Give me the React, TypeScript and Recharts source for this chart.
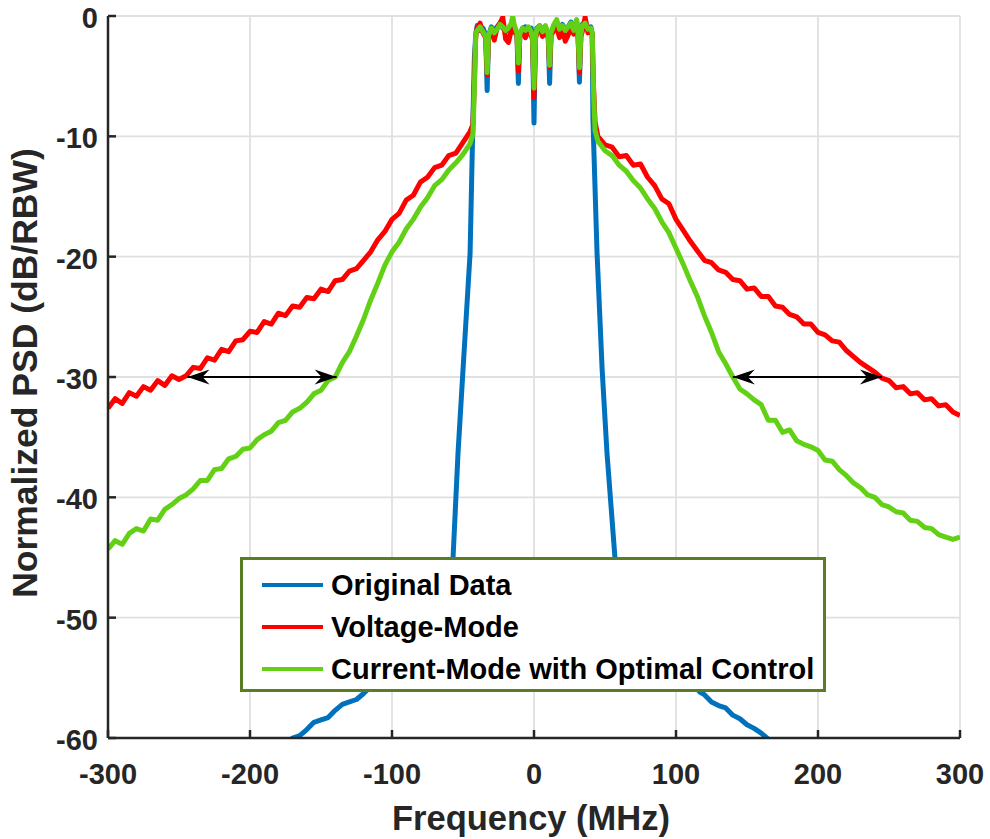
import React from 'react';
import { LineChart, Line, XAxis, YAxis, CartesianGrid, Legend, ReferenceLine } from 'recharts';

const FONT = 'Arial, "Liberation Sans", Helvetica, sans-serif';
const AXIS_COLOR = '#262626';

// ---------- tick labels ----------
const xTicks = [-300, -200, -100, 0, 100, 200, 300];
const yTicks = [-60, -50, -40, -30, -20, -10, 0];

// ---------- series meta ----------
const seriesNames = ['Original Data', 'Voltage-Mode', 'Current-Mode with Optimal Control'];
const seriesColors = ['#0072bd', '#ff0000', '#62d116'];

// ---------- shared frequency grids (MHz) ----------
const skirtLeftF = [-300, -295, -290, -285, -280, -275, -270, -265, -260, -255, -250, -245, -240, -235, -230, -225, -220, -215, -210, -205, -200, -195, -190, -185, -180, -175, -170, -165, -160, -155, -150, -145, -140, -135, -130, -125, -120, -115, -110, -105, -100, -95, -90, -85, -80, -75, -70, -65, -60, -55, -50, -45];
const skirtRightF = [45, 50, 55, 60, 65, 70, 75, 80, 85, 90, 95, 100, 105, 110, 115, 120, 125, 130, 135, 140, 145, 150, 155, 160, 165, 170, 175, 180, 185, 190, 195, 200, 205, 210, 215, 220, 225, 230, 235, 240, 245, 250, 255, 260, 265, 270, 275, 280, 285, 290, 295, 300];
const edgeLeftF = [-43, -42];
const edgeRightF = [42, 43];
const passF = [-41, -40, -38, -36, -34, -33, -32, -30, -28, -26, -24, -22, -20, -18, -16, -15, -14, -12, -11, -10, -8, -6, -4, -2, -1, 0, 1, 2, 4, 6, 8, 10, 11, 12, 14, 16, 18, 20, 22, 24, 26, 28, 30, 31, 32, 33, 34, 36, 38, 40, 41];

// ---------- Original Data (blue) ----------
const blueLeftF = [-300, -200, -180, -170, -165, -160, -155, -150, -145, -140, -135, -130, -125, -120, -100, -80, -65, -57, -53.5, -50, -45, -43, -42];
const blueLeftV = [-70, -63.5, -61.2, -60.0, -59.8, -59.3, -58.7, -58.5, -58.3, -57.7, -57.2, -57.0, -56.8, -56.3, -54, -51, -48, -45, -36.3, -29.4, -19.7, -8.6, -3.5];
const bluePassV = [-1.5, -0.8, -1.2, -1.0, -1.6, -6.2, -1.6, -0.9, -1.3, -0.9, -0.6, -1.0, -1.3, -1.1, -0.8, -0.5, -0.9, -1.5, -5.6, -1.6, -1.0, -0.9, -1.1, -1.0, -1.8, -8.9, -1.8, -1.0, -0.8, -1.2, -0.9, -1.6, -5.6, -1.5, -0.8, -0.6, -1.0, -0.7, -1.1, -0.9, -0.5, -1.1, -0.8, -1.5, -5.5, -1.6, -0.7, -0.5, -1.0, -0.9, -1.5];
const blueRightF = [41.5, 44.4, 48, 51.4, 57, 65, 80, 100, 117, 120, 125, 130, 135, 140, 145, 150, 155, 160, 164, 180, 200, 300];
const blueRightV = [-8.6, -19.7, -29.4, -36.3, -45, -48, -51, -54, -56.2, -56.4, -57.0, -57.3, -57.5, -58.1, -58.4, -58.9, -59.2, -59.6, -60.0, -61.5, -63, -70];

// ---------- Voltage-Mode (red) ----------
const redLeftV = [-32.6, -31.8, -32.2, -31.3, -31.6, -30.8, -31.1, -30.3, -30.7, -29.9, -30.2, -29.9, -29.2, -29.3, -28.4, -28.6, -27.7, -27.9, -27.0, -26.9, -26.2, -26.3, -25.4, -25.6, -24.7, -24.9, -24.1, -24.2, -23.4, -23.5, -22.7, -22.9, -22.0, -21.9, -21.2, -21.0, -20.3, -19.6, -18.6, -17.9, -16.9, -16.4, -15.3, -14.9, -13.8, -13.4, -12.6, -12.4, -11.6, -11.4, -10.5, -9.6];
const redEdgeLeftV = [-9.0, -5.5];
const redPassV = [-1.6, -1.0, -0.6, -1.4, -1.8, -4.9, -1.8, -1.2, -2.0, -1.0, -0.6, -0.1, -1.9, -2.2, -1.2, -0.8, -1.3, -1.6, -4.6, -1.7, -1.3, -1.8, -1.2, -1.6, -2.0, -6.8, -1.9, -1.4, -1.0, -1.7, -1.1, -1.8, -4.3, -1.6, -1.2, -1.0, -1.8, -1.0, -2.1, -1.6, -0.9, -1.5, -0.4, -1.6, -4.7, -1.7, -1.3, -0.1, -1.4, -1.2, -1.6];
const redEdgeRightV = [-6.0, -8.8];
const redRightV = [-10.0, -10.7, -10.9, -11.7, -11.6, -12.4, -12.3, -13.4, -14.1, -15.2, -15.6, -16.9, -17.8, -18.7, -19.5, -20.3, -20.5, -21.1, -21.3, -21.9, -22.0, -22.7, -22.6, -23.3, -23.3, -24.1, -24.2, -24.8, -25.0, -25.6, -25.6, -26.3, -26.5, -27.0, -27.1, -27.8, -28.3, -28.8, -29.2, -29.6, -30.1, -30.3, -30.9, -30.8, -31.4, -31.3, -31.9, -31.8, -32.4, -32.3, -32.9, -33.2];

// ---------- Current-Mode with Optimal Control (green) ----------
const greenLeftV = [-44.3, -43.6, -43.9, -43.0, -42.6, -42.8, -41.8, -41.9, -41.0, -40.6, -40.1, -39.8, -39.3, -38.6, -38.6, -37.7, -37.6, -36.8, -36.6, -36.0, -35.9, -35.2, -34.8, -34.5, -33.8, -33.6, -32.9, -32.6, -32.1, -31.4, -31.1, -30.3, -30.0, -28.8, -27.9, -26.6, -25.2, -23.6, -22.2, -20.7, -19.6, -18.8, -17.7, -16.9, -15.9, -15.1, -14.1, -13.6, -12.8, -12.2, -11.5, -10.6];
const greenEdgeLeftV = [-9.8, -6.0];
const greenPassV = [-1.4, -1.2, -0.9, -1.3, -1.7, -4.7, -1.6, -1.0, -1.4, -1.1, -0.7, -0.9, -1.2, -1.0, -0.6, 0.0, -0.7, -1.4, -3.9, -1.5, -1.0, -1.2, -0.9, -1.3, -1.9, -6.0, -1.8, -1.1, -0.8, -1.3, -0.8, -1.5, -4.1, -1.4, -0.7, -0.3, -1.1, -0.8, -1.2, -0.9, -0.6, -1.2, -0.3, -1.5, -4.3, -1.6, -0.8, -0.6, -1.1, -1.0, -1.4];
const greenEdgeRightV = [-6.5, -9.5];
const greenRightV = [-10.4, -11.2, -11.6, -12.4, -12.9, -13.7, -14.3, -15.2, -16.0, -17.1, -18.0, -19.3, -20.6, -22.0, -23.3, -24.9, -26.3, -27.9, -28.9, -30.0, -31.0, -31.4, -31.9, -32.3, -33.6, -33.6, -34.6, -34.4, -35.3, -35.6, -35.8, -36.1, -36.9, -37.0, -37.7, -38.2, -38.8, -39.2, -39.8, -40.0, -40.6, -40.8, -41.2, -41.3, -41.9, -42.0, -42.5, -42.6, -43.1, -43.3, -43.5, -43.3];

// ---------- arrows (dB level and MHz ends) ----------
const arrowLevel = -30;
const arrowLeft = [-244, -139];
const arrowRight = [140, 245];

const zip = (fs: number[], vs: number[]) => fs.map((f, i) => ({ f, v: vs[i] }));

const blueData = zip([...blueLeftF, ...passF, ...blueRightF], [...blueLeftV, ...bluePassV, ...blueRightV]);
const redData = zip(
  [...skirtLeftF, ...edgeLeftF, ...passF, ...edgeRightF, ...skirtRightF],
  [...redLeftV, ...redEdgeLeftV, ...redPassV, ...redEdgeRightV, ...redRightV]
);
const greenData = zip(
  [...skirtLeftF, ...edgeLeftF, ...passF, ...edgeRightF, ...skirtRightF],
  [...greenLeftV, ...greenEdgeLeftV, ...greenPassV, ...greenEdgeRightV, ...greenRightV]
);
const seriesData = [blueData, redData, greenData];

const XTick = (props: any) => {
  const { x, y, payload } = props;
  return (
    <g>
      <line x1={x} y1={y} x2={x} y2={y - 8} stroke={AXIS_COLOR} strokeWidth={2.5} />
      <text x={x} y={y + 46} textAnchor="middle" fontFamily={FONT} fontWeight="bold" fontSize={29} fill={AXIS_COLOR}>
        {payload.value}
      </text>
    </g>
  );
};

const YTick = (props: any) => {
  const { x, y, payload } = props;
  return (
    <g>
      <line x1={x} y1={y} x2={x + 8} y2={y} stroke={AXIS_COLOR} strokeWidth={2.5} />
      <text x={x - 10} y={y + 12} textAnchor="end" fontFamily={FONT} fontWeight="bold" fontSize={29} fill={AXIS_COLOR}>
        {payload.value}
      </text>
    </g>
  );
};

const TopTick = (props: any) => {
  const { x, y } = props;
  return <line x1={x} y1={y} x2={x} y2={y + 8} stroke={AXIS_COLOR} strokeWidth={2.5} />;
};

const RightTick = (props: any) => {
  const { x, y } = props;
  return <line x1={x} y1={y} x2={x - 8} y2={y} stroke={AXIS_COLOR} strokeWidth={2.5} />;
};

const XTitle = (props: any) => {
  const vb = props.viewBox || { x: 108, y: 738, width: 852 };
  return (
    <text x={vb.x + vb.width / 2 - 3} y={vb.y + 92} textAnchor="middle" fontFamily={FONT} fontWeight="bold" fontSize={34.5} fill={AXIS_COLOR}>
      Frequency (MHz)
    </text>
  );
};

const YTitle = (props: any) => {
  const vb = props.viewBox || { x: 0, y: 16, height: 722 };
  const cx = vb.x + 37;
  const cy = vb.y + vb.height / 2 - 4;
  return (
    <text x={cx} y={cy} transform={`rotate(-90, ${cx}, ${cy})`} textAnchor="middle" fontFamily={FONT} fontWeight="bold" fontSize={35.5} fill={AXIS_COLOR}>
      Normalized PSD (dB/RBW)
    </text>
  );
};

const ArrowShape = (p: any) => {
  const { x1, y1, x2, y2 } = p;
  const dx = x2 - x1;
  const dy = y2 - y1;
  const len = Math.hypot(dx, dy) || 1;
  const ux = dx / len;
  const uy = dy / len;
  const L = 22;
  const H = 7.5;
  const B = 15;
  const head = (tx: number, ty: number, sx: number, sy: number) =>
    `${tx},${ty} ${tx + sx * L - sy * H},${ty + sy * L + sx * H} ${tx + sx * B},${ty + sy * B} ${tx + sx * L + sy * H},${ty + sy * L - sx * H}`;
  return (
    <g>
      <line x1={x1} y1={y1} x2={x2} y2={y2} stroke="#000" strokeWidth={2} />
      <polygon points={head(x1, y1, ux, uy)} fill="#000" />
      <polygon points={head(x2, y2, -ux, -uy)} fill="#000" />
    </g>
  );
};

const renderLegend = () => (
  <div
    style={{
      width: 586,
      height: 135,
      boxSizing: 'border-box',
      border: '3px solid #5b7d22',
      background: '#ffffff',
      position: 'relative',
      fontFamily: FONT,
      fontWeight: 'bold',
      fontSize: 29,
      color: '#000',
    }}
  >
    {seriesNames.map((name, i) => (
      <div
        key={name}
        style={{ position: 'absolute', left: 0, top: 4 + 42 * i, height: 42, display: 'flex', alignItems: 'center', whiteSpace: 'nowrap' }}
      >
        <div style={{ marginLeft: 19, width: 61, height: 4, background: seriesColors[i] }} />
        <span style={{ marginLeft: 8, lineHeight: '42px' }}>{name}</span>
      </div>
    ))}
  </div>
);

export default function App() {
  return (
    <div style={{ position: 'absolute', left: 0, top: 0, background: '#fff' }}>
      <LineChart width={990} height={839} margin={{ top: 16, right: 30, bottom: 0, left: 0 }}>
        <CartesianGrid stroke="#e0e0e0" strokeWidth={1.8} />
        <XAxis
          type="number"
          dataKey="f"
          domain={[-300, 300]}
          ticks={xTicks}
          interval={0}
          allowDataOverflow
          height={101}
          tickSize={0}
          tickMargin={0}
          tickLine={false}
          axisLine={{ stroke: AXIS_COLOR, strokeWidth: 2.5 }}
          tick={XTick}
          label={<XTitle />}
        />
        <XAxis
          xAxisId="top"
          orientation="top"
          type="number"
          dataKey="f"
          domain={[-300, 300]}
          ticks={xTicks}
          interval={0}
          allowDataOverflow
          height={0}
          tickSize={0}
          tickMargin={0}
          tickLine={false}
          axisLine={{ stroke: AXIS_COLOR, strokeWidth: 2.5 }}
          tick={TopTick}
        />
        <YAxis
          type="number"
          domain={[-60, 0]}
          ticks={yTicks}
          interval={0}
          allowDataOverflow
          width={108}
          tickSize={0}
          tickMargin={0}
          tickLine={false}
          axisLine={{ stroke: AXIS_COLOR, strokeWidth: 2.5 }}
          tick={YTick}
          label={<YTitle />}
        />
        <YAxis
          yAxisId="right"
          orientation="right"
          type="number"
          domain={[-60, 0]}
          ticks={yTicks}
          interval={0}
          allowDataOverflow
          width={0}
          tickSize={0}
          tickMargin={0}
          tickLine={false}
          axisLine={{ stroke: AXIS_COLOR, strokeWidth: 2.5 }}
          tick={RightTick}
        />
        {seriesData.map((d, i) => (
          <Line
            key={seriesNames[i]}
            data={d}
            dataKey="v"
            name={seriesNames[i]}
            type="linear"
            stroke={seriesColors[i]}
            strokeWidth={5}
            strokeLinejoin="round"
            dot={false}
            activeDot={false}
            isAnimationActive={false}
          />
        ))}
        <ReferenceLine
          segment={[{ x: arrowLeft[0], y: arrowLevel }, { x: arrowLeft[1], y: arrowLevel }]}
          shape={ArrowShape}
          stroke="#000"
        />
        <ReferenceLine
          segment={[{ x: arrowRight[0], y: arrowLevel }, { x: arrowRight[1], y: arrowLevel }]}
          shape={ArrowShape}
          stroke="#000"
        />
        <Legend
          layout="horizontal"
          verticalAlign="middle"
          align="center"
          content={renderLegend}
          wrapperStyle={{ left: 240, top: 557, width: 586, height: 135 }}
        />
      </LineChart>
    </div>
  );
}
